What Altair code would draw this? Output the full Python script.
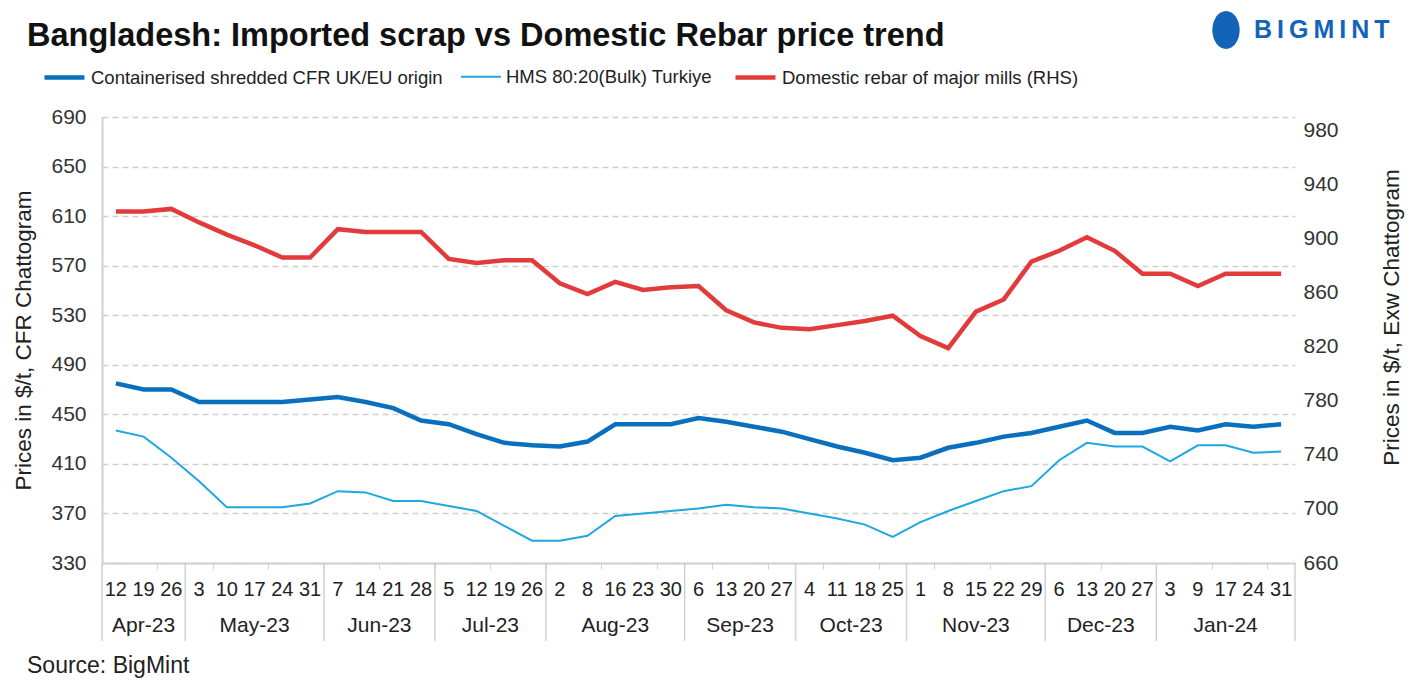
import altair as alt
import pandas as pd

days = [12, 19, 26, 3, 10, 17, 24, 31, 7, 14, 21, 28, 5, 12, 19, 26, 2, 8, 16, 23, 30,
        6, 13, 20, 27, 4, 11, 18, 25, 1, 8, 15, 22, 29, 6, 13, 20, 27, 3, 9, 17, 24, 31]
month_names = ["Apr-23", "May-23", "Jun-23", "Jul-23", "Aug-23", "Sep-23", "Oct-23",
               "Nov-23", "Dec-23", "Jan-24"]
month_counts = [3, 5, 4, 4, 5, 4, 4, 5, 4, 5]

shredded = [475, 470, 470, 460, 460, 460, 460, 462, 464, 460, 455, 445, 442, 434, 427,
            425, 424, 428, 442, 442, 442, 447, 444, 440, 436, 430, 424, 419, 413, 415,
            423, 427, 432, 435, 440, 445, 435, 435, 440, 437, 442, 440, 442]
hms = [437, 432, 415, 396, 375, 375, 375, 378, 388, 387, 380, 380, 376, 372, 360,
       348, 348, 352, 368, 370, 372, 374, 377, 375, 374, 370, 366, 361, 351, 363,
       372, 380, 388, 392, 413, 427, 424, 424, 412, 425, 425, 419, 420]
rebar = [920, 920, 922, 912, 903, 895, 886, 886, 907, 905, 905, 905, 885, 882, 884,
         884, 867, 859, 868, 862, 864, 865, 847, 838, 834, 833, 836, 839, 843, 828,
         819, 846, 855, 883, 891, 901, 891, 874, 874, 865, 874, 874, 874]

series = ["Containerised shredded CFR UK/EU origin", "HMS 80:20(Bulk) Turkiye",
          "Domestic rebar of major mills (RHS)"]
colors = ["#0A6FBD", "#1EA7E1", "#E23B3B"]
widths = [4.5, 2, 4.5]

FONT = "Liberation Sans"
W, H = 1193, 446
n = len(days)

df_left = pd.DataFrame(
    [{"idx": i, "value": v, "series": series[0]} for i, v in enumerate(shredded)] +
    [{"idx": i, "value": v, "series": series[1]} for i, v in enumerate(hms)])
df_right = pd.DataFrame([{"idx": i, "value": v, "series": series[2]} for i, v in enumerate(rebar)])

months_rows, bounds = [], [-0.5]
start = 0
for m, c in zip(month_names, month_counts):
    months_rows.append({"month": m, "center": start + (c - 1) / 2})
    start += c
    bounds.append(start - 0.5)
df_months = pd.DataFrame(months_rows)
df_bounds = pd.DataFrame({"b": bounds})
df_days = pd.DataFrame({"idx": list(range(n)), "day": [str(d) for d in days]})

xscale = alt.Scale(domain=[-0.5, n - 0.5], nice=False, zero=False)
x_enc = alt.X("idx:Q", scale=xscale,
              axis=alt.Axis(values=[i - 0.5 for i in range(n + 1)], labels=False, ticks=True,
                            tickSize=6, tickColor="#d0d0d0", grid=False, domainColor="#d0d0d0",
                            domainWidth=2, title=None))

color = alt.Color("series:N", scale=alt.Scale(domain=series, range=colors),
                  legend=alt.Legend(title=None, orient="none", legendX=-60, legendY=-62,
                                    direction="horizontal", symbolType="stroke", symbolSize=1600,
                                    labelFont=FONT, labelFontSize=18.5, labelColor="#222",
                                    columnPadding=14, labelOffset=4, labelLimit=500))
sw = alt.StrokeWidth("series:N", scale=alt.Scale(type="ordinal", domain=series, range=widths),
                     legend=None)

left = alt.Chart(df_left).mark_line().encode(
    x=x_enc,
    y=alt.Y("value:Q", scale=alt.Scale(domain=[330, 690], nice=False, zero=False),
            axis=alt.Axis(values=list(range(330, 691, 40)), title="Prices in $/t, CFR Chattogram",
                          labelFont=FONT, labelFontSize=21, labelColor="#333", labelPadding=16,
                          ticks=False, domain=True, domainColor="#d0d0d0", domainWidth=2,
                          grid=True, gridColor="#cfcfcf", gridDash=[6, 4], gridWidth=1.5,
                          titleFont=FONT, titleFontSize=22.5, titleFontWeight="normal",
                          titleColor="#222", titlePadding=15)),
    color=color, strokeWidth=sw)

right = alt.Chart(df_right).mark_line().encode(
    x=x_enc,
    y=alt.Y("value:Q", scale=alt.Scale(domain=[660, 990], nice=False, zero=False),
            axis=alt.Axis(orient="right", values=list(range(660, 981, 40)),
                          title="Prices in $/t, Exw Chattogram",
                          labelFont=FONT, labelFontSize=21, labelColor="#333", labelPadding=8,
                          ticks=False, domain=False, grid=False,
                          titleFont=FONT, titleFontSize=22.5, titleFontWeight="normal",
                          titleColor="#222", titlePadding=65, titleAngle=270, titleY=200)),
    color=color, strokeWidth=sw)

day_text = alt.Chart(df_days).mark_text(font=FONT, fontSize=20, color="#222").encode(
    x=alt.X("idx:Q", scale=xscale), y=alt.value(H + 27), text="day:N")
month_text = alt.Chart(df_months).mark_text(font=FONT, fontSize=21, color="#222").encode(
    x=alt.X("center:Q", scale=xscale), y=alt.value(H + 63), text="month:N")
seps = alt.Chart(df_bounds).mark_rule(color="#d0d0d0", strokeWidth=1.5).encode(
    x=alt.X("b:Q", scale=xscale), y=alt.value(H), y2=alt.value(H + 78))
source = alt.Chart(pd.DataFrame({"t": ["Source: BigMint"]})).mark_text(
    font=FONT, fontSize=23, color="#222", align="left").encode(
    x=alt.value(-75), y=alt.value(H + 103), text="t:N")
title = alt.Chart(pd.DataFrame({"t": ["Bangladesh: Imported scrap vs Domestic Rebar price trend"]})).mark_text(
    font=FONT, fontSize=32.5, fontWeight="bold", color="#111", align="left").encode(
    x=alt.value(-75), y=alt.value(-81), text="t:N")
logo = alt.Chart(pd.DataFrame({"t": ["B\u2009I\u2009G\u2009M\u2009I\u2009N\u2009T"]})).mark_text(
    font=FONT, fontSize=25, fontWeight="bold", color="#1363B8", align="left").encode(
    x=alt.value(1152), y=alt.value(-87), text="t:N")
logo_icon = alt.Chart(pd.DataFrame({"t": ["logo"]})).mark_point(
    shape="M0,-1 A0.72,1 0 1,1 0,1 A0.72,1 0 1,1 0,-1 Z", filled=True, size=1444,
    color="#1363B8", opacity=1).encode(
    x=alt.value(1124), y=alt.value(-87))

chart = alt.layer(left, right, seps, day_text, month_text, source, title, logo_icon, logo).resolve_scale(
    y="independent").properties(
    width=W, height=H,
    padding={"left": 4, "top": 3, "right": 3, "bottom": 0}
).configure_view(stroke=None)

chart.save("out.html", embed_options={"renderer": "svg", "actions": False})
